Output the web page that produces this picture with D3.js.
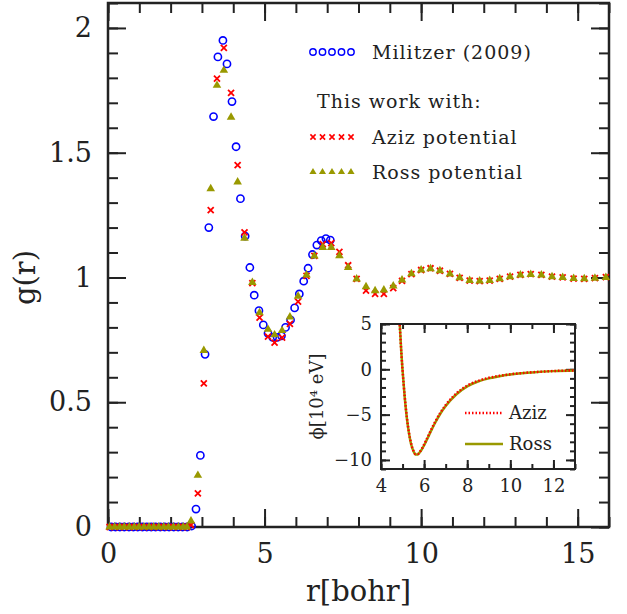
<!DOCTYPE html>
<html>
<head>
<meta charset="utf-8">
<script src="https://cdn.jsdelivr.net/npm/d3@7"></script>
<style>
  body { margin: 0; background: #fff; }
  svg { display: block; font-family: "DejaVu Serif", serif; }
  .tick text { fill: #222; }
</style>
</head>
<body>
<svg id="chart" width="627" height="614"></svg>
<script>
// Militzer (2009)
const militzerR = [0.1, 0.24, 0.38, 0.52, 0.67, 0.81, 0.95, 1.1, 1.24, 1.38, 1.52, 1.67, 1.81, 1.95, 2.1, 2.24, 2.38, 2.53, 2.67,
  2.81, 2.95, 3.10, 3.22, 3.37, 3.51, 3.67, 3.80, 3.96, 4.09, 4.23, 4.38, 4.53, 4.67, 4.82, 4.96, 5.11, 5.26, 5.40, 5.54,
  5.67, 5.83, 5.96, 6.11, 6.25, 6.39, 6.53, 6.67, 6.81, 6.96, 7.10];
const militzerG = [0, 0, 0, 0, 0, 0, 0, 0, 0, 0, 0, 0, 0, 0, 0, 0, 0, 0, 0.004,
  0.072, 0.287, 0.692, 1.20, 1.645, 1.884, 1.95, 1.856, 1.705, 1.524, 1.316, 1.166, 1.04, 0.929, 0.867, 0.81, 0.776, 0.76, 0.76, 0.766,
  0.80, 0.83, 0.878, 0.934, 0.985, 1.037, 1.092, 1.13, 1.148, 1.156, 1.15];

// this work, shared r grid for both potentials
const workR = [0.05, 0.21, 0.37, 0.52, 0.68, 0.84, 0.99, 1.15, 1.31, 1.46, 1.62, 1.78, 1.93, 2.09, 2.25, 2.40, 2.52,
  2.65, 2.87, 3.06, 3.28, 3.48, 3.70, 3.93, 4.14, 4.36, 4.61, 4.84, 5.11, 5.32, 5.56, 5.81, 6.07, 6.34, 6.59, 6.86, 7.13,
  7.39, 7.67, 7.94, 8.24, 8.53, 8.81, 9.11, 9.39, 9.69, 10.0, 10.3, 10.6, 10.92, 11.23, 11.55, 11.87, 12.19, 12.51, 12.84,
  13.17, 13.50, 13.84, 14.18, 14.52, 14.87, 15.21, 15.55, 15.90];
const azizG = [0, 0, 0, 0, 0, 0, 0, 0, 0, 0, 0, 0, 0, 0, 0, 0, 0,
  0.008, 0.135, 0.576, 1.27, 1.797, 1.92, 1.74, 1.45, 1.181, 0.977, 0.839, 0.763, 0.739, 0.759, 0.814, 0.903, 1.006, 1.087, 1.134, 1.138,
  1.103, 1.049, 0.994, 0.947, 0.934, 0.934, 0.957, 0.986, 1.013, 1.03, 1.037, 1.027, 1.014, 0.998, 0.987, 0.985, 0.987, 0.994, 1.003,
  1.01, 1.013, 1.01, 1.003, 1.0, 0.995, 0.994, 0.997, 1.001];
const rossG = [0, 0, 0, 0, 0, 0, 0, 0, 0, 0, 0, 0, 0, 0, 0, 0, 0,
  0.024, 0.207, 0.707, 1.356, 1.77, 1.83, 1.642, 1.383, 1.157, 0.98, 0.859, 0.792, 0.77, 0.787, 0.842, 0.925, 1.01, 1.086, 1.12, 1.12,
  1.087, 1.04, 0.994, 0.963, 0.947, 0.95, 0.966, 0.99, 1.015, 1.03, 1.035, 1.027, 1.014, 0.999, 0.988, 0.986, 0.988, 0.995, 1.003,
  1.01, 1.012, 1.01, 1.003, 1.0, 0.996, 0.995, 0.997, 1.0];

// inset: pair potential, units of 1e-4 eV
const potR = [4.80, 4.85, 4.90, 4.95, 5.0, 5.1, 5.2, 5.3, 5.4, 5.5, 5.6, 5.7, 5.8, 5.9, 6.0, 6.1, 6.2, 6.35, 6.5, 6.75, 7.0,
  7.5, 8.0, 8.5, 9.0, 9.5, 10, 11, 12, 13];
const azizPhi = [8.0, 5.8, 3.6, 1.6, -0.1, -3.0, -5.3, -7.0, -8.2, -8.95, -9.35, -9.35, -9.1, -8.75, -8.3, -7.8, -7.3, -6.55, -5.85, -4.8, -3.95,
  -2.65, -1.8, -1.28, -0.94, -0.72, -0.55, -0.33, -0.19, -0.12];
const rossPhi = [8.2, 5.9, 3.7, 1.6, -0.1, -3.1, -5.4, -7.1, -8.3, -9.0, -9.4, -9.4, -9.15, -8.8, -8.38, -7.9, -7.4, -6.65, -5.95, -4.9, -4.05,
  -2.75, -1.88, -1.35, -1.0, -0.76, -0.58, -0.35, -0.2, -0.13];

const xTicks = [0, 5, 10, 15];
const yTicks = [0, 0.5, 1, 1.5, 2];
const insetXTicks = [4, 6, 8, 10, 12];
const insetYTicks = [-10, -5, 0, 5];

const BLUE = '#0000ff', RED = '#ff0000', OLIVE = '#999900', INK = '#222';
const FONT = '"DejaVu Serif", serif';

const svg = d3.select('#chart');
const margin = { left: 108, right: 18, top: 3, bottom: 87 };
const W = 627 - margin.left - margin.right;
const H = 614 - margin.top - margin.bottom;

const plot = svg.append('g').attr('transform', `translate(${margin.left},${margin.top})`);

const x = d3.scaleLinear().domain([0, 16]).range([0, W]);
const y = d3.scaleLinear().domain([0, 2.1]).range([H, 0]);

function styleAxis(g, fontSize) {
  g.attr('font-family', FONT);
  g.select('.domain').remove();
  g.selectAll('.tick line').attr('stroke', INK).attr('stroke-width', 2);
  g.selectAll('.tick text').attr('font-size', fontSize);
}

// minor ticks on all four sides
plot.append('g').attr('transform', `translate(0,${H})`)
  .call(d3.axisBottom(x).tickValues(d3.range(0, 16.01, 1)).tickSize(-10).tickFormat(''))
  .call(g => styleAxis(g, 0));
plot.append('g')
  .call(d3.axisTop(x).tickValues(d3.range(0, 16.01, 1)).tickSize(-10).tickFormat(''))
  .call(g => styleAxis(g, 0));
plot.append('g')
  .call(d3.axisLeft(y).tickValues(d3.range(0, 2.101, 0.1)).tickSize(-10).tickFormat(''))
  .call(g => styleAxis(g, 0));
plot.append('g').attr('transform', `translate(${W},0)`)
  .call(d3.axisRight(y).tickValues(d3.range(0, 2.101, 0.1)).tickSize(-10).tickFormat(''))
  .call(g => styleAxis(g, 0));

// major ticks with labels
plot.append('g').attr('transform', `translate(0,${H})`)
  .call(d3.axisBottom(x).tickValues(xTicks).tickSize(-18).tickPadding(17).tickFormat(d3.format('d')))
  .call(g => styleAxis(g, 27));
plot.append('g')
  .call(d3.axisTop(x).tickValues(xTicks).tickSize(-18).tickFormat(''))
  .call(g => styleAxis(g, 0));
plot.append('g')
  .call(d3.axisLeft(y).tickValues(yTicks).tickSize(-18).tickPadding(16).tickFormat(d => d3.format('')(d)))
  .call(g => styleAxis(g, 27));
plot.append('g').attr('transform', `translate(${W},0)`)
  .call(d3.axisRight(y).tickValues(yTicks).tickSize(-18).tickFormat(''))
  .call(g => styleAxis(g, 0));

plot.append('rect')
  .attr('width', W).attr('height', H)
  .attr('fill', 'none').attr('stroke', INK).attr('stroke-width', 2.5);

// axis titles
svg.append('text')
  .attr('x', margin.left + x(8)).attr('y', 601)
  .attr('text-anchor', 'middle').attr('font-size', 29).attr('fill', INK)
  .text('r[bohr]');
svg.append('text')
  .attr('transform', `translate(35,${margin.top + y(1)}) rotate(-90)`)
  .attr('text-anchor', 'middle').attr('font-size', 29).attr('fill', INK)
  .text('g(r)');

// markers
const crossPath = s => `M${-s},${-s}L${s},${s}M${-s},${s}L${s},${-s}`;
const tri = d3.symbol(d3.symbolTriangle);

const militzer = militzerR.map((r, i) => ({ r, g: militzerG[i] }));
const aziz = workR.map((r, i) => ({ r, g: azizG[i] }));
const ross = workR.map((r, i) => ({ r, g: rossG[i] }));

plot.append('g').selectAll('circle').data(militzer).join('circle')
  .attr('cx', d => x(d.r)).attr('cy', d => y(d.g)).attr('r', 3.6)
  .attr('fill', 'none').attr('stroke', BLUE).attr('stroke-width', 1.6);

plot.append('g').selectAll('path').data(aziz).join('path')
  .attr('transform', d => `translate(${x(d.r)},${y(d.g)})`)
  .attr('d', crossPath(3))
  .attr('stroke', RED).attr('stroke-width', 1.8);

plot.append('g').selectAll('path').data(ross).join('path')
  .attr('transform', d => `translate(${x(d.r)},${y(d.g)})`)
  .attr('d', tri.size(32)())
  .attr('fill', OLIVE);

// legend
const legend = svg.append('g').attr('fill', INK).attr('font-size', 19).attr('letter-spacing', 1);
const legX = [313, 322.5, 332, 341.5, 351];
legend.append('g').selectAll('circle').data(legX).join('circle')
  .attr('cx', d => d).attr('cy', 52).attr('r', 3.2)
  .attr('fill', 'none').attr('stroke', BLUE).attr('stroke-width', 1.4);
legend.append('g').selectAll('path').data(legX).join('path')
  .attr('transform', d => `translate(${d},137)`)
  .attr('d', crossPath(2.6)).attr('stroke', RED).attr('stroke-width', 1.6);
legend.append('g').selectAll('path').data(legX).join('path')
  .attr('transform', d => `translate(${d},172)`)
  .attr('d', tri.size(22)()).attr('fill', OLIVE);
legend.append('text').attr('x', 372).attr('y', 59).text('Militzer (2009)');
legend.append('text').attr('x', 317).attr('y', 108).text('This work with:');
legend.append('text').attr('x', 372).attr('y', 144).text('Aziz potential');
legend.append('text').attr('x', 372).attr('y', 179).text('Ross potential');

// inset
const ix0 = 381, iy0 = 324, iW = 194, iH = 145;
const inset = svg.append('g').attr('transform', `translate(${ix0},${iy0})`);
const xi = d3.scaleLinear().domain([4, 13]).range([0, iW]);
const yi = d3.scaleLinear().domain([-11, 5]).range([iH, 0]);

inset.append('rect').attr('width', iW).attr('height', iH).attr('fill', '#fff');

inset.append('g').attr('transform', `translate(0,${iH})`)
  .call(d3.axisBottom(xi).tickValues(d3.range(4, 13.01, 1)).tickSize(-5).tickFormat(''))
  .call(g => styleAxis(g, 0));
inset.append('g')
  .call(d3.axisTop(xi).tickValues(d3.range(4, 13.01, 1)).tickSize(-5).tickFormat(''))
  .call(g => styleAxis(g, 0));
inset.append('g')
  .call(d3.axisLeft(yi).tickValues(d3.range(-11, 5.01, 1)).tickSize(-5).tickFormat(''))
  .call(g => styleAxis(g, 0));
inset.append('g').attr('transform', `translate(${iW},0)`)
  .call(d3.axisRight(yi).tickValues(d3.range(-11, 5.01, 1)).tickSize(-5).tickFormat(''))
  .call(g => styleAxis(g, 0));
inset.append('g').attr('transform', `translate(0,${iH})`)
  .call(d3.axisBottom(xi).tickValues(insetXTicks).tickSize(-9).tickPadding(10).tickFormat(d3.format('d')))
  .call(g => styleAxis(g, 18));
inset.append('g')
  .call(d3.axisTop(xi).tickValues(insetXTicks).tickSize(-9).tickFormat(''))
  .call(g => styleAxis(g, 0));
inset.append('g')
  .call(d3.axisLeft(yi).tickValues(insetYTicks).tickSize(-9).tickPadding(9).tickFormat(d => d < 0 ? '\u2212' + Math.abs(d) : d))
  .call(g => styleAxis(g, 18));
inset.append('g').attr('transform', `translate(${iW},0)`)
  .call(d3.axisRight(yi).tickValues(insetYTicks).tickSize(-9).tickFormat(''))
  .call(g => styleAxis(g, 0));

inset.append('clipPath').attr('id', 'inset-clip')
  .append('rect').attr('width', iW).attr('height', iH);

const line = d3.line().x(d => xi(d[0])).y(d => yi(d[1])).curve(d3.curveMonotoneX);
const curves = inset.append('g').attr('clip-path', 'url(#inset-clip)');
curves.append('path')
  .datum(potR.map((r, i) => [r, rossPhi[i]]))
  .attr('d', line).attr('fill', 'none').attr('stroke', OLIVE).attr('stroke-width', 2.5);
curves.append('path')
  .datum(potR.map((r, i) => [r, azizPhi[i]]))
  .attr('d', line).attr('fill', 'none').attr('stroke', RED).attr('stroke-width', 2.5)
  .attr('stroke-dasharray', '1.5,2');

inset.append('rect').attr('width', iW).attr('height', iH)
  .attr('fill', 'none').attr('stroke', INK).attr('stroke-width', 2);

inset.append('line').attr('x1', 84).attr('x2', 122).attr('y1', 89).attr('y2', 89)
  .attr('stroke', RED).attr('stroke-width', 2.5).attr('stroke-dasharray', '1.5,2');
inset.append('line').attr('x1', 84).attr('x2', 122).attr('y1', 120).attr('y2', 120)
  .attr('stroke', OLIVE).attr('stroke-width', 2.5);
inset.append('text').attr('x', 128).attr('y', 95).attr('font-size', 18).attr('fill', INK).text('Aziz');
inset.append('text').attr('x', 128).attr('y', 126).attr('font-size', 18).attr('fill', INK).text('Ross');

svg.append('text')
  .attr('transform', `translate(323,${iy0 + yi(-3)}) rotate(-90)`)
  .attr('text-anchor', 'middle').attr('font-size', 18).attr('fill', INK)
  .text('\u03d5[10\u2074 eV]');
</script>
</body>
</html>
